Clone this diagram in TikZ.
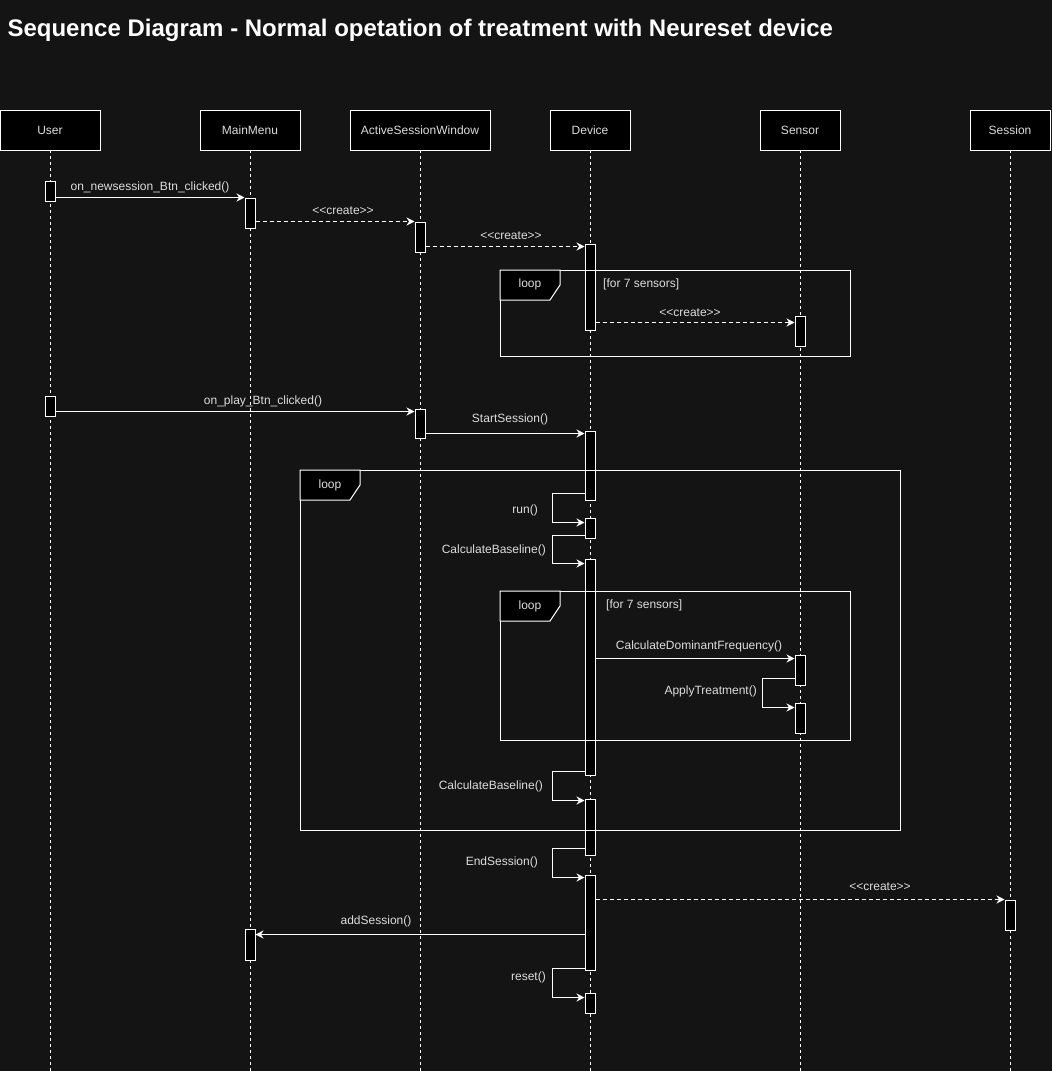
\documentclass[tikz,border=0pt]{standalone}
\usepackage{fontspec}
\setmainfont{Liberation Sans}
\usetikzlibrary{positioning, arrows.meta}

\definecolor{bgcol}{HTML}{141414}
\definecolor{txtcol}{HTML}{DDDDDD}

\tikzset{
  head/.style={draw=white, fill=black, text=txtcol, minimum height=40pt, inner sep=0pt, outer sep=0pt, line width=1pt, font=\fontsize{12}{14}\selectfont},
  life/.style={draw=white, line width=1pt, dash pattern=on 3pt off 3pt},
  act/.style={draw=white, fill=black, minimum width=10pt, inner sep=0pt, line width=1pt},
  msg/.style={draw=white, line width=1pt, -{Stealth[length=8pt,width=8pt]}},
  create/.style={msg, dash pattern=on 4pt off 3pt},
  lbl/.style={text=txtcol, inner sep=0pt, font=\fontsize{12}{14}\selectfont},
  frame/.style={draw=white, line width=1pt},
  tab/.style={draw=white, fill=black, line width=1pt},
}

\begin{document}
\begin{tikzpicture}[x=1pt, y=-1pt]
        \useasboundingbox[fill=bgcol] (0,0) rectangle (1052,1071);
        \node[anchor=west, text=white, font=\fontsize{24}{28}\selectfont\bfseries] (title) at (4,30) {Sequence Diagram - Normal opetation of treatment with Neureset device};

        % lifeline heads
        \node[head, minimum width=100pt] (user) at (50,130) {User};
        \node[head, minimum width=100pt, right=100pt of user] (menu) {MainMenu};
        \node[head, minimum width=140pt, right=50pt of menu] (asw) {ActiveSessionWindow};
        \node[head, minimum width=80pt, right=60pt of asw] (dev) {Device};
        \node[head, minimum width=80pt, right=130pt of dev] (sens) {Sensor};
        \node[head, minimum width=80pt, right=130pt of sens] (sess) {Session};

        \coordinate (bot) at (0,1071);
        \foreach \n in {user, menu, asw, dev, sens, sess}
            \draw[life] (\n.south) -- (\n.south |- bot);

        % activations
        \node[act, minimum height=20pt] (u1) at (50,191) {};
        \node[act, minimum height=30pt] (m1) at (250,213) {};
        \node[act, minimum height=30pt] (a1) at (420,237) {};
        \node[act, minimum height=86pt] (d1) at (590,287) {};
        \node[act, minimum height=30pt] (s1) at (800,331) {};
        \node[act, minimum height=20pt] (u2) at (50,406) {};
        \node[act, minimum height=29pt] (a2) at (420,423.5) {};
        \node[act, minimum height=69pt] (d2) at (590,465.5) {};
        \node[act, minimum height=20pt] (d3) at (590,528) {};
        \node[act, minimum height=216pt] (d4) at (590,667) {};
        \node[act, minimum height=30pt] (s2) at (800,670) {};
        \node[act, minimum height=30pt] (s3) at (800,718) {};
        \node[act, minimum height=56pt] (d5) at (590,827) {};
        \node[act, minimum height=95pt] (d6) at (590,922.5) {};
        \node[act, minimum height=30pt] (e1) at (1010,915) {};
        \node[act, minimum height=31pt] (m2) at (250,944.5) {};
        \node[act, minimum height=20pt] (d7) at (590,1003) {};

        % loop frames
        \draw[frame] (500,270) rectangle (850,356);
        \draw[tab] (500,270) -- (560,270) -- (560,285) -- (550,300) -- (500,300) -- cycle;
        \node[lbl] (loopa) at (530,284) {loop};
        \node[lbl, anchor=west] (guarda) at (603,284) {[for 7 sensors]};

        \draw[frame] (300,470) rectangle (900,830);
        \draw[tab] (300,470) -- (360,470) -- (360,485) -- (350,500) -- (300,500) -- cycle;
        \node[lbl] (loopb) at (330,485) {loop};

        \draw[frame] (500,591) rectangle (850,740);
        \draw[tab] (500,591) -- (560,591) -- (560,606) -- (550,621) -- (500,621) -- cycle;
        \node[lbl] (loopc) at (530,606) {loop};
        \node[lbl, anchor=west] (guardc) at (606,605) {[for 7 sensors]};

        % messages
        \draw[msg] (u1.east |- m1.north) -- (m1.north west);
        \node[lbl] (l1) at (150,187) {on\_newsession\_Btn\_clicked()};
        \draw[create] (m1.east |- a1.north) -- (a1.north west);
        \node[lbl] (l2) at (343,211) {<{}<create>{}>};
        \draw[create] ([yshift=-3pt]a1.east |- d1.north) -- ([yshift=-3pt]d1.north west);
        \node[lbl] (l3) at (511,236) {<{}<create>{}>};
        \draw[create] ([yshift=-7pt]d1.east |- s1.north) -- ([yshift=-7pt]s1.north west);
        \node[lbl] (l4) at (690,313) {<{}<create>{}>};

        \draw[msg] ([yshift=-3pt]u2.east |- a2.north) -- ([yshift=-3pt]a2.north west);
        \node[lbl] (l5) at (263,401) {on\_play\_Btn\_clicked()};
        \draw[msg] ([yshift=-3pt]a2.east |- d2.north) -- ([yshift=-3pt]d2.north west);
        \node[lbl] (l6) at (510,419) {StartSession()};

        \draw[msg] ([yshift=7pt]d2.south west) -- ++(-32,0) |- ([yshift=-5pt]d3.north west);
        \node[lbl, anchor=east] (l7) at (538,510) {run()};
        \draw[msg] ([yshift=3pt]d3.south west) -- ++(-32,0) |- ([yshift=-5pt]d4.north west);
        \node[lbl, anchor=east] (l8) at (546,550) {CalculateBaseline()};

        \draw[msg] ([yshift=-4pt]d4.east |- s2.north) -- ([yshift=-4pt]s2.north west);
        \node[lbl] (l9) at (699,646) {CalculateDominantFrequency()};
        \draw[msg] ([yshift=7pt]s2.south west) -- ++(-32,0) |- ([yshift=-5pt]s3.north west);
        \node[lbl, anchor=east] (l10) at (757,691) {ApplyTreatment()};

        \draw[msg] ([yshift=4pt]d4.south west) -- ++(-32,0) |- ([yshift=-2pt]d5.north west);
        \node[lbl, anchor=east] (l11) at (543,786) {CalculateBaseline()};
        \draw[msg] ([yshift=7pt]d5.south west) -- ++(-32,0) |- ([yshift=-3pt]d6.north west);
        \node[lbl, anchor=east] (l12) at (538,862) {EndSession()};

        \draw[create] (d6.east |- e1.north) -- (e1.north west);
        \node[lbl] (l13) at (880,887) {<{}<create>{}>};
        \draw[msg] ([yshift=-6pt]d6.west |- m2.north) -- ([yshift=-6pt]m2.north east);
        \node[lbl] (l14) at (376,921) {addSession()};
        \draw[msg] ([yshift=2pt]d6.south west) -- ++(-32,0) |- ([yshift=-5pt]d7.north west);
        \node[lbl, anchor=east] (l15) at (546,977) {reset()};
    \end{tikzpicture}
\end{document}
